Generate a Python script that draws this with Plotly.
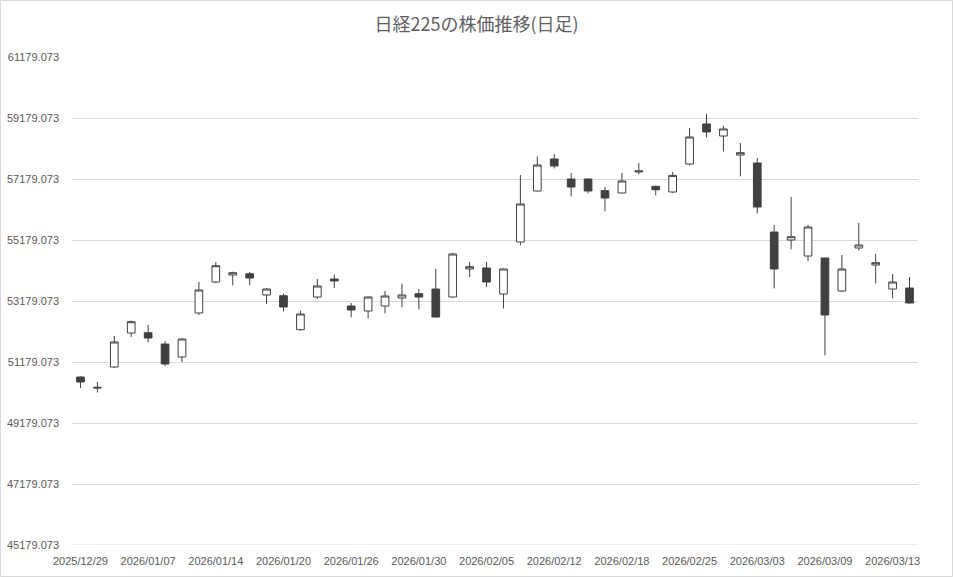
import plotly.graph_objects as go

dates = [
    "2025/12/29", "2025/12/30", "2026/01/05", "2026/01/06", "2026/01/07", "2026/01/08", "2026/01/09",
    "2026/01/13", "2026/01/14", "2026/01/15", "2026/01/16", "2026/01/19", "2026/01/20", "2026/01/21",
    "2026/01/22", "2026/01/23", "2026/01/26", "2026/01/27", "2026/01/28", "2026/01/29", "2026/01/30",
    "2026/02/02", "2026/02/03", "2026/02/04", "2026/02/05", "2026/02/06", "2026/02/09", "2026/02/10",
    "2026/02/12", "2026/02/13", "2026/02/16", "2026/02/17", "2026/02/18", "2026/02/19", "2026/02/20",
    "2026/02/24", "2026/02/25", "2026/02/26", "2026/02/27", "2026/03/02", "2026/03/03", "2026/03/04",
    "2026/03/05", "2026/03/06", "2026/03/09", "2026/03/10", "2026/03/11", "2026/03/12", "2026/03/13",
    "2026/03/16",
]

open_ = [
    50687, 50350, 51015, 52130, 52140, 51769, 51343,
    52786, 53802, 54031, 54074, 53376, 53353, 52238,
    53310, 53900, 53015, 52851, 53015, 53277, 53418,
    53572, 53310, 54228, 54261, 53409, 55114, 56786,
    57835, 57179, 57179, 56796, 56720, 57409, 56937,
    56753, 57671, 58983, 58589, 57966, 57704, 55441,
    55179, 54654, 54589, 53507, 54917, 54359, 53572,
    53605,
]
high = [
    50700, 50523, 52031, 52543, 52392, 51867, 51966,
    53802, 54458, 54140, 54130, 53600, 53418, 52861,
    53900, 54041, 53113, 53320, 53507, 53746, 53572,
    54228, 54763, 54458, 54458, 54240, 57310, 57920,
    58000, 57376, 57199, 56917, 57376, 57704, 56960,
    57409, 58852, 59311, 58927, 58360, 57868, 55671,
    56589, 55671, 54600, 54687, 55736, 54720, 54064,
    53966,
]
low = [
    50327, 50182, 50982, 51999, 51822, 51048, 51179,
    52720, 53769, 53690, 53690, 53081, 52838, 52205,
    53245, 53605, 52641, 52608, 52772, 52969, 52904,
    52640, 53300, 53966, 53638, 52936, 55002, 56770,
    57527, 56609, 56707, 56117, 56710, 57330, 56641,
    56720, 57625, 58543, 58084, 57265, 56051, 53592,
    54871, 54477, 51395, 53474, 54838, 53756, 53264,
    53100,
]
close = [
    50523, 50330, 51835, 52500, 51966, 51113, 51933,
    53540, 54336, 54107, 53933, 53572, 52982, 52753,
    53671, 53835, 52884, 53310, 53343, 53376, 53310,
    52654, 54720, 54304, 53802, 54228, 56360, 57638,
    57605, 56917, 56786, 56556, 57114, 57442, 56828,
    57297, 58556, 58720, 58819, 58042, 56261, 54228,
    55287, 55605, 52720, 54228, 55015, 54435, 53802,
    53113,
]

y_ticks = [45179.073 + 2000 * i for i in range(9)]
y_ticktext = [f"{v:.3f}" for v in y_ticks]
x_ticks = dates[::4]

title_text = "日経225の株価推移(日足)"

dark = "#404040"
fig = go.Figure(
    go.Candlestick(
        x=dates, open=open_, high=high, low=low, close=close,
        increasing=dict(fillcolor="#ffffff", line=dict(color=dark, width=1)),
        decreasing=dict(fillcolor=dark, line=dict(color=dark, width=1)),
        whiskerwidth=0,
        showlegend=False,
    )
)

W, H = 953, 577
ml, mr, mt, mb = 72, 35, 57, 32
pw, ph = W - ml - mr, H - mt - mb

fig.update_layout(
    width=W, height=H,
    margin=dict(l=ml, r=mr, t=mt, b=mb),
    paper_bgcolor="#ffffff", plot_bgcolor="#ffffff",
    boxgap=0.35,
    title=dict(
        text=title_text, x=0.5, xref="container", xanchor="center",
        y=1 - 25 / H, yref="container", yanchor="middle",
        font=dict(family="Noto Sans CJK JP", size=18, color="#5f5f5f"),
    ),
    font=dict(family="Liberation Sans", size=11, color="#595959"),
    xaxis=dict(
        type="category", rangeslider=dict(visible=False),
        tickmode="array", tickvals=x_ticks, ticktext=x_ticks,
        showgrid=False, showline=False, ticks="", tickangle=0,
        tickfont=dict(size=11, color="#595959"),
        ticklabelstandoff=8, automargin=False,
        zeroline=False,
    ),
    yaxis=dict(
        range=[y_ticks[0], y_ticks[-1]],
        tickmode="array", tickvals=y_ticks, ticktext=y_ticktext,
        showgrid=True, gridcolor="#d9d9d9", gridwidth=1,
        showline=False, ticks="", zeroline=False,
        ticklabelstandoff=12, automargin=False,
        tickfont=dict(size=11, color="#595959"),
    ),
    shapes=[
        dict(
            type="rect", xref="paper", yref="paper",
            x0=(0.5 - ml) / pw, x1=(W - 0.5 - ml) / pw,
            y0=-(mb - 0.5) / ph, y1=(H - mb - 0.5) / ph,
            line=dict(color="#d9d9d9", width=1), fillcolor="rgba(0,0,0,0)",
            layer="below",
        ),
        dict(
            type="line", xref="paper", yref="y",
            x0=0, x1=1, y0=y_ticks[0], y1=y_ticks[0],
            line=dict(color="#d9d9d9", width=1), layer="below",
        ),
    ],
)

fig.write_html(
    "out.html",
    config={"displayModeBar": False},
    post_script="document.body.style.margin='0';document.body.style.overflow='hidden';",
)
